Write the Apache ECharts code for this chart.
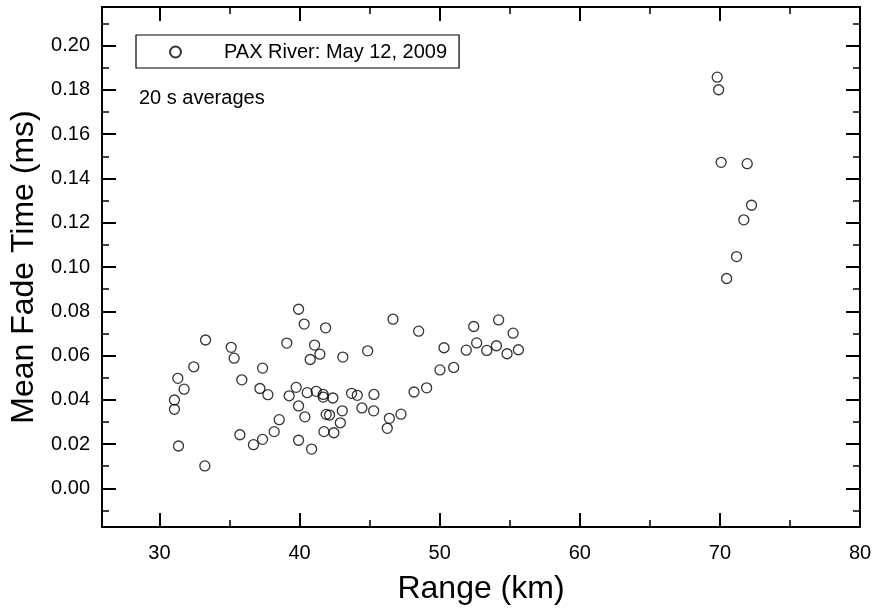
<!DOCTYPE html>
<html>
<head>
<meta charset="utf-8">
<script src="https://cdn.jsdelivr.net/npm/echarts@6/dist/echarts.min.js"></script>
<style>html,body{margin:0;padding:0;background:#fff}#c{width:876px;height:613px}</style>
</head>
<body>
<div id="c"></div>
<script>
const rangeKm = [39.93,40.33,41.86,33.29,35.12,39.09,41.07,35.33,40.76,41.45,32.45,37.36,31.31,35.88,31.76,37.17,37.74,31.07,31.07,39.26,39.76,40.55,41.19,41.69,41.69,39.93,40.38,41.90,42.14,38.55,38.19,41.74,35.74,37.36,36.71,39.93,40.86,31.36,33.24,
  43.09,44.86,46.67,48.50,50.31,50.02,51.00,51.90,52.43,52.64,53.36,54.21,54.05,55.24,54.81,55.62,48.17,49.07,43.71,44.12,45.31,42.38,44.45,45.29,43.05,42.91,47.24,46.41,46.26,42.45,
  69.81,69.91,70.09,71.95,72.26,71.71,71.19,70.48];
const fadeMs = [0.0809,0.0742,0.0725,0.0670,0.0637,0.0656,0.0647,0.0588,0.0582,0.0606,0.0549,0.0543,0.0497,0.0490,0.0448,0.0451,0.0423,0.0399,0.0357,0.0418,0.0456,0.0432,0.0438,0.0424,0.0412,0.0372,0.0323,0.0334,0.0331,0.0310,0.0256,0.0256,0.0242,0.0221,0.0197,0.0217,0.0177,0.0191,0.0101,
  0.0593,0.0621,0.0764,0.0710,0.0635,0.0535,0.0546,0.0624,0.0731,0.0657,0.0623,0.0761,0.0644,0.0701,0.0608,0.0626,0.0435,0.0454,0.0429,0.0420,0.0424,0.0408,0.0363,0.0350,0.0350,0.0296,0.0335,0.0316,0.0271,0.0251,
  0.1858,0.1801,0.1473,0.1467,0.1279,0.1213,0.1047,0.0948];
const xMajorTicks = [30,40,50,60,70,80];
const xMinorTicks = [35,45,55,65,75];
const yMajorTicks = [0,0.02,0.04,0.06,0.08,0.10,0.12,0.14,0.16,0.18,0.20];
const yMinorTicks = [-0.01,0.01,0.03,0.05,0.07,0.09,0.11,0.13,0.15,0.17,0.19,0.21];
const seriesName = 'PAX River: May 12, 2009';
const noteText = '20 s averages';

const X_MIN = 25.9, X_MAX = 80, Y_MIN = -0.0175, Y_MAX = 0.2175;
const FONT = '"Liberation Sans", Arial, sans-serif';

function mkAxis(kind, position, ticks, len, width, opts) {
  const isX = kind === 'x';
  return Object.assign({
    type: 'value', position: position,
    min: isX ? X_MIN : Y_MIN, max: isX ? X_MAX : Y_MAX,
    splitLine: {show: false},
    axisLine: {show: false, onZero: false},
    axisTick: {show: true, inside: true, length: len, customValues: ticks, lineStyle: {color: '#000', width: width}},
    axisLabel: {show: false},
    minorTick: {show: false}
  }, opts || {});
}

const data = rangeKm.map((x, i) => [x, fadeMs[i]]);

const option = {
  animation: false,
  backgroundColor: '#fff',
  textStyle: {fontFamily: FONT},
  grid: {left: 102, right: 16, top: 7, bottom: 86, show: true, borderColor: '#000', borderWidth: 2, backgroundColor: 'transparent'},
  xAxis: [
    mkAxis('x', 'bottom', xMajorTicks, 14, 2, {
      name: 'Range (km)', nameLocation: 'middle', nameGap: 46,
      nameTextStyle: {fontSize: 32, color: '#000', fontFamily: FONT},
      axisLabel: {show: true, customValues: xMajorTicks, margin: 16, fontSize: 20, color: '#000', fontFamily: FONT}
    }),
    mkAxis('x', 'bottom', xMinorTicks, 7, 1.5),
    mkAxis('x', 'top', xMajorTicks, 14, 2),
    mkAxis('x', 'top', xMinorTicks, 7, 1.5)
  ],
  yAxis: [
    mkAxis('y', 'left', yMajorTicks, 14, 2, {
      name: 'Mean Fade Time (ms)', nameLocation: 'middle', nameGap: 56,
      nameTextStyle: {fontSize: 32, color: '#000', fontFamily: FONT},
      axisLabel: {show: true, customValues: yMajorTicks, margin: 12, fontSize: 20, color: '#000', fontFamily: FONT,
        formatter: v => Math.abs(v) < 1e-9 ? '0.00' : v.toFixed(2)}
    }),
    mkAxis('y', 'left', yMinorTicks, 7, 1.5),
    mkAxis('y', 'right', yMajorTicks, 14, 2),
    mkAxis('y', 'right', yMinorTicks, 7, 1.5)
  ],
  legend: {
    show: true, left: 136, top: 35,
    orient: 'horizontal',
    borderColor: '#000', borderWidth: 1.2, borderRadius: 0,
    padding: [7, 12, 6, 33],
    itemWidth: 11, itemHeight: 11,
    textStyle: {fontSize: 20, color: '#000', fontFamily: FONT, padding: [0, 0, 0, 38]},
    data: [{name: seriesName, icon: 'circle'}]
  },
  graphic: [{
    type: 'text', left: 139, top: 88,
    style: {text: noteText, fontSize: 20, fill: '#000', fontFamily: FONT}
  }],
  series: [{
    type: 'scatter', name: seriesName,
    xAxisIndex: 0, yAxisIndex: 0,
    symbol: 'circle', symbolSize: 10,
    itemStyle: {color: 'rgba(0,0,0,0)', borderColor: '#000', borderWidth: 1.3},
    data: data
  }]
};

const chart = echarts.init(document.getElementById('c'), null, {renderer: 'canvas'});
chart.setOption(option);
</script>
</body>
</html>
